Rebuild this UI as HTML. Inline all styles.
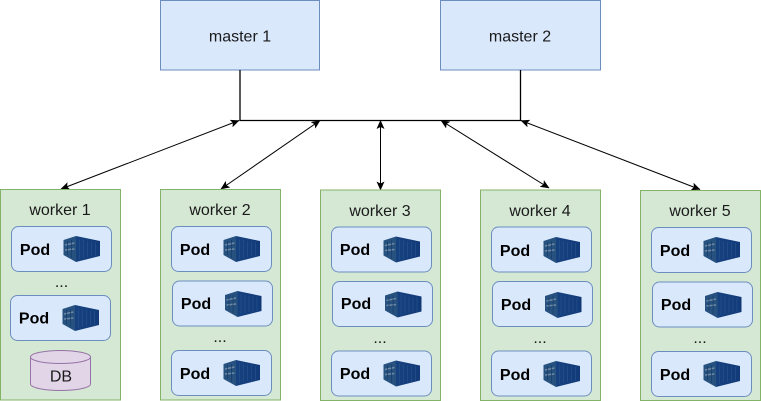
<!DOCTYPE html>
<html><head><meta charset="utf-8"><style>
html,body{margin:0;padding:0;background:#fff;width:761px;height:401px;overflow:hidden}
svg{display:block}
text{font-family:"Liberation Sans",sans-serif;font-size:16px;fill:#1a1a1a;text-anchor:middle}
.p{font-weight:bold;fill:#000}
.b{fill:#dae8fc;stroke:#6c8ebf}
.w{fill:#d5e8d4;stroke:#82b366}
.l{stroke:#000;fill:none}
</style></head><body>
<svg width="761" height="401" viewBox="0 0 761 401" xmlns="http://www.w3.org/2000/svg">
<defs>
<linearGradient id="g" x1="0" y1="0" x2="1" y2="0">
<stop offset="0" stop-color="#17417f"/><stop offset="1" stop-color="#123a78"/>
</linearGradient>
<g id="c">
<polygon points="12.5,0 36.5,5 36.5,20 12.5,26" fill="url(#g)"/>
<polygon points="0,4 12.5,0 12.5,26 0,19" fill="#27527f"/>
<path d="M16 3V23M20 4V22M24 5V21M28 5.500V20.500M32 6V20" stroke="#25558f" stroke-width="1" opacity=".65"/>
<path d="M1.500 9L11 7M1.500 14L11 13" stroke="#7f97ad" stroke-width="1.500" opacity=".8"/>
<path d="M4 5V19M8 4V22" stroke="#173a68" stroke-width="1" opacity=".7"/>
</g>
<marker id="a" markerWidth="10" markerHeight="8" refX="8.5" refY="4" orient="auto-start-reverse" markerUnits="userSpaceOnUse">
<path d="M0 0 L9 4 L0 8 L2 4 Z" fill="#000"/>
</marker>
</defs>

<rect class="b" x="160.500" y="0.500" width="159" height="69.500"/>
<text x="240" y="41.500">master 1</text>
<rect class="b" x="440.500" y="0.500" width="160" height="69.500"/>
<text x="520" y="41.500">master 2</text>

<path class="l" stroke-width="1.300" d="M240 70V120.500H520.500V70"/>
<g stroke="#000" stroke-width="1">
<line x1="239" y1="120.500" x2="61" y2="189" marker-start="url(#a)" marker-end="url(#a)"/>
<line x1="320" y1="120.500" x2="221" y2="189" marker-start="url(#a)" marker-end="url(#a)"/>
<line x1="380.500" y1="120.500" x2="380.500" y2="190" marker-start="url(#a)" marker-end="url(#a)"/>
<line x1="441" y1="120.500" x2="549" y2="188" marker-start="url(#a)" marker-end="url(#a)"/>
<line x1="521" y1="120.500" x2="700" y2="189.500" marker-start="url(#a)" marker-end="url(#a)"/>
</g>

<!-- worker 1 -->
<rect class="w" x="0.500" y="189.500" width="120" height="210.500"/>
<text x="60" y="215">worker 1</text>
<rect class="b" x="11.500" y="226.500" width="100" height="45" rx="7"/>
<text class="p" x="35" y="255">Pod</text><use href="#c" x="63.500" y="236"/>
<text x="61.500" y="287">...</text>
<rect class="b" x="10.500" y="295.500" width="100" height="45" rx="7"/>
<text class="p" x="34" y="323.500">Pod</text><use href="#c" x="62.500" y="305"/>
<path d="M30.500 357V384A30 6.500 0 0 0 90.500 384V357A30 6.500 0 0 0 30.500 357Z" fill="#e1d5e7" stroke="#9673a6"/>
<path d="M30.500 357A30 6.500 0 0 0 90.500 357" fill="none" stroke="#9673a6"/>
<text x="61" y="381.500">DB</text>

<!-- worker 2 -->
<rect class="w" x="160.500" y="189.500" width="120" height="210.500"/>
<text x="220" y="215">worker 2</text>
<rect class="b" x="171.500" y="226.500" width="100" height="45" rx="7"/>
<text class="p" x="195" y="255">Pod</text><use href="#c" x="223.500" y="236"/>
<rect class="b" x="172.500" y="281" width="100" height="45" rx="7"/>
<text class="p" x="196" y="309">Pod</text><use href="#c" x="225" y="291"/>
<text x="220" y="342">...</text>
<rect class="b" x="171.500" y="350.500" width="100" height="45" rx="7"/>
<text class="p" x="195" y="379">Pod</text><use href="#c" x="223.500" y="360"/>

<!-- worker 3 -->
<rect class="w" x="320.500" y="190" width="120" height="210.500"/>
<text x="380" y="216">worker 3</text>
<rect class="b" x="331.500" y="227" width="100" height="45" rx="7"/>
<text class="p" x="355" y="255">Pod</text><use href="#c" x="383.500" y="236.500"/>
<rect class="b" x="332.500" y="281.500" width="100" height="45" rx="7"/>
<text class="p" x="356" y="309">Pod</text><use href="#c" x="385" y="291.500"/>
<text x="380" y="343">...</text>
<rect class="b" x="331.500" y="351" width="100" height="45" rx="7"/>
<text class="p" x="355" y="379">Pod</text><use href="#c" x="383.500" y="360.500"/>

<!-- worker 4 -->
<rect class="w" x="480.500" y="190" width="120" height="210.500"/>
<text x="540" y="216">worker 4</text>
<rect class="b" x="491.500" y="227" width="100" height="45" rx="7"/>
<text class="p" x="515" y="256">Pod</text><use href="#c" x="543.500" y="237"/>
<rect class="b" x="492.500" y="281.500" width="100" height="45" rx="7"/>
<text class="p" x="516" y="310">Pod</text><use href="#c" x="545" y="292"/>
<text x="540" y="343">...</text>
<rect class="b" x="491.500" y="351" width="100" height="45" rx="7"/>
<text class="p" x="515" y="380">Pod</text><use href="#c" x="543.500" y="361"/>

<!-- worker 5 -->
<rect class="w" x="640.500" y="190.500" width="120" height="210"/>
<text x="700" y="216">worker 5</text>
<rect class="b" x="651.500" y="227.500" width="100" height="45" rx="7"/>
<text class="p" x="675" y="256">Pod</text><use href="#c" x="703.500" y="237"/>
<rect class="b" x="652.500" y="282" width="100" height="45" rx="7"/>
<text class="p" x="676" y="310">Pod</text><use href="#c" x="705" y="292"/>
<text x="700" y="343">...</text>
<rect class="b" x="651.500" y="351.500" width="100" height="45" rx="7"/>
<text class="p" x="675" y="380">Pod</text><use href="#c" x="703.500" y="361"/>
</svg>
</body></html>
